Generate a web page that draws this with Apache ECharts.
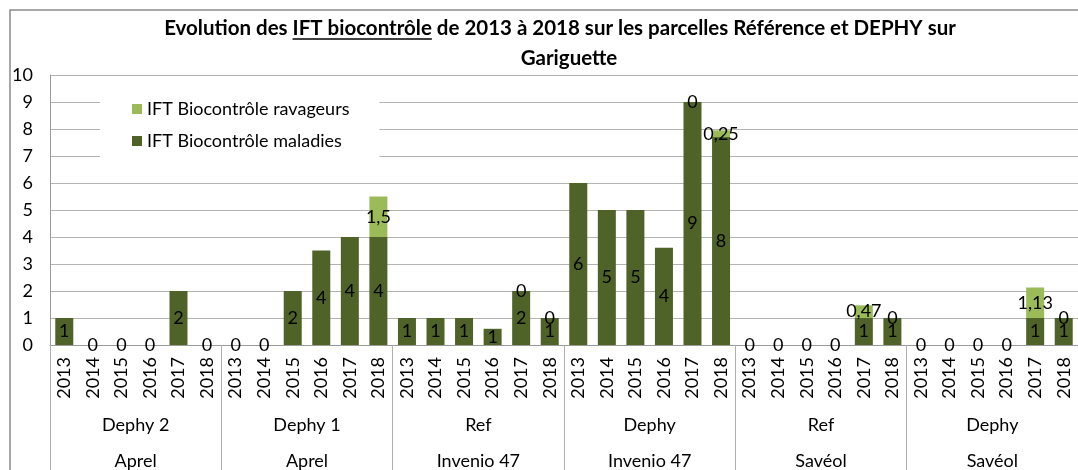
<!DOCTYPE html>
<html>
<head>
<meta charset="utf-8">
<script src="https://cdn.jsdelivr.net/npm/echarts@6/dist/echarts.min.js"></script>
<style>
    html, body { margin: 0; padding: 0; background: #fff; }
    #chart { width: 1078px; height: 470px; }
</style>
</head>
<body>
<div id="chart"></div>
<script>
    // data
    const years = ['2013', '2014', '2015', '2016', '2017', '2018'];
    const groups = ['Dephy 2', 'Dephy 1', 'Ref', 'Dephy', 'Ref', 'Dephy'];
    const sites = ['Aprel', 'Aprel', 'Invenio 47', 'Invenio 47', 'Savéol', 'Savéol'];
    const maladies = [
        1, 0, 0, 0, 2, 0,
        0, 0, 2, 3.5, 4, 4,
        1, 1, 1, 0.6, 2, 1,
        6, 5, 5, 3.6, 9, 7.7,
        0, 0, 0, 0, 1, 1,
        0, 0, 0, 0, 1, 1
    ];
    const ravageurs = [
        null, null, null, null, null, null,
        null, null, null, null, null, 1.5,
        null, null, null, null, 0, 0,
        null, null, null, null, 0, 0.25,
        null, null, null, null, 0.47, 0,
        null, null, null, null, 1.13, 0
    ];

    const FONT = 'Lato, "Liberation Sans", sans-serif';
    const categories = [];
    groups.forEach(function () {
        years.forEach(function (y) { categories.push(y); });
    });

    const titleLine1a = 'Evolution des ';
    const titleLine1b = 'IFT biocontrôle';
    const titleLine1c = ' de 2013 à 2018 sur les parcelles Référence et DEPHY sur';
    const titleLine2 = 'Gariguette';
    const titleSize = 20.5;

    // measure the title to place the underline
    const ctx = document.createElement('canvas').getContext('2d');
    ctx.font = 'bold ' + titleSize + 'px ' + FONT;
    const wA = ctx.measureText(titleLine1a).width;
    const wB = ctx.measureText(titleLine1b).width;
    const wAll = ctx.measureText(titleLine1a + titleLine1b + titleLine1c).width;
    const line1Center = 560;
    const line1Left = line1Center - wAll / 2;

    const myChart = echarts.init(document.getElementById('chart'));
    const option = {
        animation: false,
        color: ['#9bbb59', '#4f6228'],
        textStyle: { fontFamily: FONT },
        graphic: [
            {
                type: 'rect',
                shape: { x: 10, y: 10, width: 1200, height: 600 },
                style: { fill: null, stroke: '#8a8a8a', lineWidth: 1.5 },
                silent: true
            },
            {
                type: 'text',
                x: line1Center, y: 28,
                style: {
                    text: titleLine1a + titleLine1b + titleLine1c,
                    font: 'bold ' + titleSize + 'px ' + FONT,
                    fill: '#000', textAlign: 'center', textVerticalAlign: 'middle'
                }
            },
            {
                type: 'line',
                shape: { x1: line1Left + wA, y1: 39, x2: line1Left + wA + wB, y2: 39 },
                style: { stroke: '#000', lineWidth: 1.3 }
            },
            {
                type: 'text',
                x: 569, y: 58,
                style: {
                    text: titleLine2,
                    font: 'bold ' + titleSize + 'px ' + FONT,
                    fill: '#000', textAlign: 'center', textVerticalAlign: 'middle'
                }
            }
        ],
        legend: {
            orient: 'vertical',
            left: 100,
            top: 83,
            padding: [17, 30, 17, 32],
            itemGap: 14,
            itemWidth: 10,
            itemHeight: 10,
            backgroundColor: '#fff',
            icon: 'rect',
            textStyle: { fontSize: 18, color: '#000', fontFamily: FONT },
            data: ['IFT Biocontrôle ravageurs', 'IFT Biocontrôle maladies']
        },
        grid: {
            left: 50,
            right: -6,
            top: 75,
            bottom: 123,
            containLabel: false
        },
        xAxis: [
            {
                type: 'category',
                data: categories,
                axisLine: { lineStyle: { color: '#9a9a9a', width: 1 } },
                axisTick: { show: false },
                axisLabel: {
                    rotate: 90,
                    margin: 12,
                    fontSize: 18,
                    color: '#000',
                    interval: 0
                }
            },
            {
                type: 'category',
                data: groups,
                position: 'bottom',
                axisLine: { show: false },
                axisTick: { show: true, length: 130, lineStyle: { color: '#b0b0b0' } },
                axisLabel: { margin: 71, fontSize: 18, color: '#000', interval: 0 }
            },
            {
                type: 'category',
                data: sites,
                position: 'bottom',
                axisLine: { show: false },
                axisTick: { show: false },
                axisLabel: { margin: 107, fontSize: 18, color: '#000', interval: 0 }
            }
        ],
        yAxis: {
            type: 'value',
            min: 0,
            max: 10,
            interval: 1,
            axisLine: { show: true, lineStyle: { color: '#9a9a9a' } },
            axisTick: { show: false },
            axisLabel: { margin: 17, fontSize: 18, color: '#000' },
            splitLine: { lineStyle: { color: '#b4b4b4', width: 1 } }
        },
        series: [
            {
                name: 'IFT Biocontrôle maladies',
                type: 'bar',
                stack: 'ift',
                barWidth: 18,
                data: maladies,
                itemStyle: { color: '#4f6228' },
                label: {
                    show: true,
                    position: 'inside',
                    fontSize: 18,
                    color: '#000',
                    formatter: function (p) { return String(Math.round(p.value)); }
                }
            },
            {
                name: 'IFT Biocontrôle ravageurs',
                type: 'bar',
                stack: 'ift',
                barWidth: 18,
                data: ravageurs,
                itemStyle: { color: '#9bbb59' },
                label: {
                    show: true,
                    position: 'inside',
                    fontSize: 18,
                    color: '#000',
                    formatter: function (p) { return String(p.value).replace('.', ','); }
                }
            }
        ]
    };
    myChart.setOption(option);
</script>
</body>
</html>
